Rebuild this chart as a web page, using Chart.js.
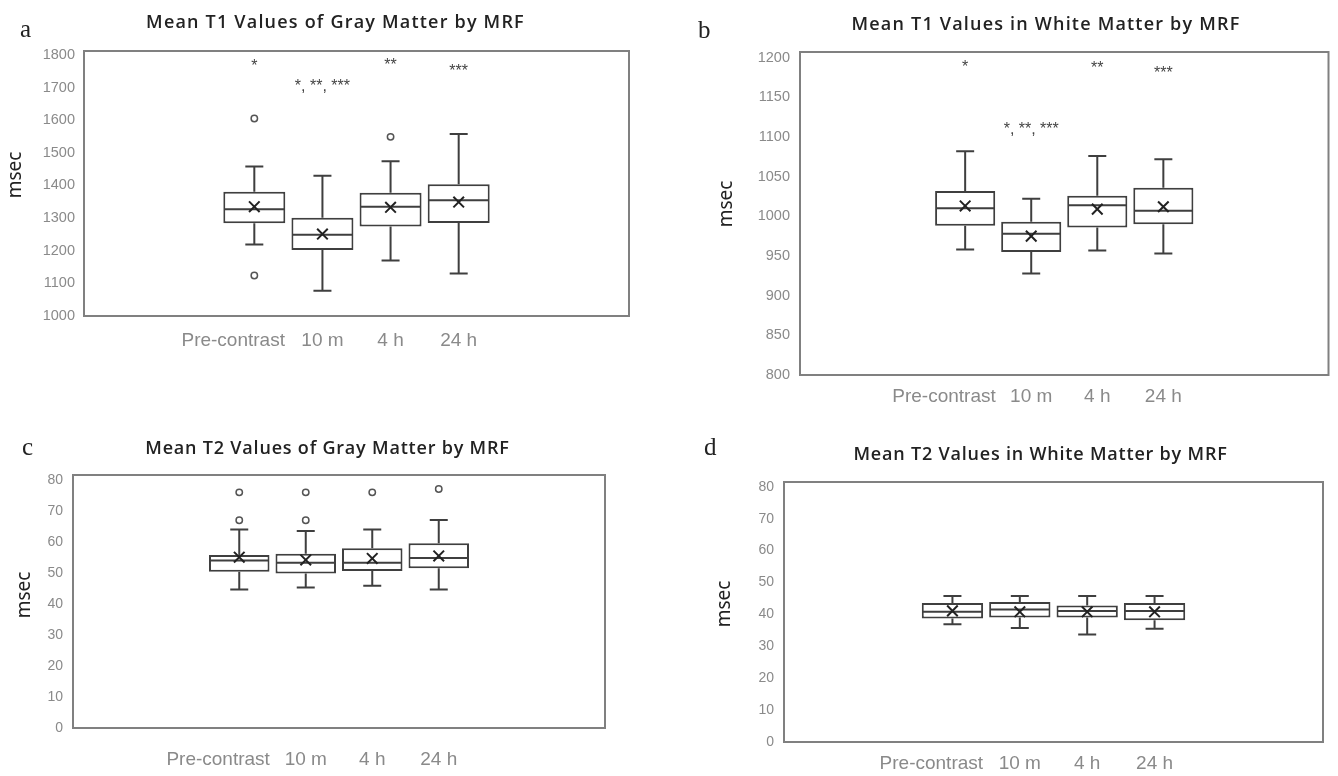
<!DOCTYPE html>
<html lang="en">
<head>
<meta charset="UTF-8">
<title>Mean T1 and T2 Values by MRF</title>
<script src="https://cdn.jsdelivr.net/npm/chart.js"></script>
<style>
    body { margin: 0; background: #fff; }
    #page { position: relative; width: 1338px; height: 776px; overflow: hidden; }
    canvas, .txt { position: absolute; }
    .title {
        font-family: 'Open Sans', 'Noto Sans', sans-serif;
        font-weight: 600;
        font-size: 18px;
        line-height: 1;
        letter-spacing: 0.8px;
        color: #222;
        white-space: nowrap;
        transform: translate(-50%, -50%);
    }
    .title.wide { letter-spacing: 1.2px; }
    .letter {
        font-family: 'Liberation Serif', serif;
        font-size: 25px;
        line-height: 1;
        color: #222;
    }
    .ylab {
        font-family: 'Noto Sans', sans-serif;
        font-size: 19px;
        line-height: 1;
        color: #222;
        transform: translate(-50%, -50%) rotate(-90deg);
    }
</style>
</head>
<body>
<div id="page">
    <canvas id="chartA" width="669" height="400" style="left:0;top:0"></canvas>
    <canvas id="chartB" width="669" height="420" style="left:669px;top:0"></canvas>
    <canvas id="chartC" width="669" height="376" style="left:0;top:400px"></canvas>
    <canvas id="chartD" width="669" height="356" style="left:669px;top:420px"></canvas>

    <div class="txt letter" style="left:20px;top:16px">a</div>
    <div class="txt letter" style="left:698px;top:17px">b</div>
    <div class="txt letter" style="left:22px;top:434px">c</div>
    <div class="txt letter" style="left:704px;top:434px">d</div>

    <div class="txt title wide" style="left:335.5px;top:20.5px">Mean T1 Values of Gray Matter by MRF</div>
    <div class="txt title wide" style="left:1046px;top:23px">Mean T1 Values in White Matter by MRF</div>
    <div class="txt title" style="left:327.5px;top:447px">Mean T2 Values of Gray Matter by MRF</div>
    <div class="txt title" style="left:1040.5px;top:453px">Mean T2 Values in White Matter by MRF</div>

    <div class="txt ylab" style="left:13.7px;top:175px">msec</div>
    <div class="txt ylab" style="left:724.7px;top:203.5px">msec</div>
    <div class="txt ylab" style="left:22.7px;top:594.5px">msec</div>
    <div class="txt ylab" style="left:722.7px;top:604px">msec</div>
</div>

<script>
    const categories = ['Pre-contrast', '10 m', '4 h', '24 h'];

    // a: mean T1, gray matter (msec)
    const t1GrayLow = [1219, 1077, 1170, 1130];
    const t1GrayQ1 = [1284, 1202, 1274, 1285];
    const t1GrayMedian = [1327, 1249, 1335, 1355];
    const t1GrayQ3 = [1381, 1301, 1378, 1404];
    const t1GrayHigh = [1458, 1430, 1474, 1558];
    const t1GrayMean = [1335, 1251, 1333, 1349];
    const t1GrayOutliers = [[1605, 1124], [], [1549], []];
    const t1GrayStars = ['*', '*, **, ***', '**', '***'];
    const t1GrayStarAt = [1779, 1715, 1782, 1763];

    // b: mean T1, white matter
    const t1WhiteLow = [958, 928, 957, 953];
    const t1WhiteQ1 = [988, 955, 986, 990];
    const t1WhiteMedian = [1010, 978, 1014, 1007];
    const t1WhiteQ3 = [1032, 993, 1026, 1036];
    const t1WhiteHigh = [1082, 1022, 1076, 1072];
    const t1WhiteMean = [1013, 975, 1009, 1012];
    const t1WhiteOutliers = [[], [], [], []];
    const t1WhiteStars = ['*', '*, **, ***', '**', '***'];
    const t1WhiteStarAt = [1193, 1115, 1192, 1185];

    // c: mean T2, gray matter
    const t2GrayLow = [44.7, 45.3, 45.9, 44.7];
    const t2GrayQ1 = [50.4, 49.8, 50.6, 51.5];
    const t2GrayMedian = [54.0, 53.3, 53.3, 54.8];
    const t2GrayQ3 = [55.8, 56.2, 58.0, 59.6];
    const t2GrayHigh = [64.0, 63.5, 64.0, 67.1];
    const t2GrayMean = [55.1, 54.2, 54.7, 55.5];
    const t2GrayOutliers = [[76, 67], [76, 67], [76], [77.1]];

    // d: mean T2, white matter
    const t2WhiteLow = [36.9, 35.7, 33.7, 35.5];
    const t2WhiteQ1 = [38.7, 39.0, 39.0, 38.2];
    const t2WhiteMedian = [40.8, 41.5, 41.1, 41.1];
    const t2WhiteQ3 = [43.6, 43.9, 42.8, 43.6];
    const t2WhiteHigh = [45.8, 45.8, 45.8, 45.8];
    const t2WhiteMean = [41.1, 40.8, 40.8, 40.8];
    const t2WhiteOutliers = [[], [], [], []];

    const BOX_LINE = '#3f3f3f';
    const TICK_GRAY = '#8a8a8a';
    const FIRST_SLOT = 2;   // the four groups sit in slots 2..5 of eight, like the Excel original

    function makePanel(canvasId, st, cfg) {
        const pad = ['', ''];
        // "Pre-contrast" sits a bit left of its box in the original, hence the trailing spaces
        const labels = pad.concat(categories.map((c, i) => i === 0 ? c + '\u00a0'.repeat(8) : c), pad);
        const slot = arr => [null, null].concat(arr, [null, null]);

        const datasets = [{
            type: 'bar',
            data: slot(st.q1.map((v, i) => [v, st.q3[i]])),
            backgroundColor: '#fff',
            borderColor: BOX_LINE,
            borderWidth: 2,
            borderSkipped: false,
            barPercentage: 0.91,
            categoryPercentage: 1,
            order: 3
        }, {
            type: 'line',
            data: slot(st.mean),
            showLine: false,
            pointStyle: 'crossRot',
            pointRadius: 7.5,
            pointBorderWidth: 2,
            pointBorderColor: '#222',
            order: 0
        }];

        const nOut = Math.max(0, ...st.outliers.map(o => o.length));
        for (let k = 0; k < nOut; k++) {
            datasets.push({
                type: 'line',
                data: slot(st.outliers.map(o => o[k] ?? null)),
                showLine: false,
                pointStyle: 'circle',
                pointRadius: 3.2,
                pointBorderWidth: 1.5,
                pointBorderColor: '#555',
                pointBackgroundColor: '#fff',
                order: 1
            });
        }

        const boxPlot = {
            id: 'boxPlot',
            beforeDatasetsDraw(chart) {
                const { ctx, chartArea: a } = chart;
                ctx.save();
                ctx.strokeStyle = '#808080';
                ctx.lineWidth = 2;
                ctx.strokeRect(a.left, a.top, a.right - a.left, a.bottom - a.top);
                ctx.restore();
            },
            afterDatasetDraw(chart, args) {
                if (args.index !== 0) return;
                const { ctx } = chart;
                const x = chart.scales.x, y = chart.scales.y;
                const bars = chart.getDatasetMeta(0).data;
                ctx.save();
                ctx.strokeStyle = BOX_LINE;
                ctx.lineWidth = 2;
                st.median.forEach((m, i) => {
                    const bar = bars[i + FIRST_SLOT];
                    const cx = x.getPixelForValue(i + FIRST_SLOT);
                    const half = bar.width / 2;
                    const cap = 9;
                    const yq1 = y.getPixelForValue(st.q1[i]);
                    const yq3 = y.getPixelForValue(st.q3[i]);
                    const ylo = y.getPixelForValue(st.low[i]);
                    const yhi = y.getPixelForValue(st.high[i]);
                    const ym = y.getPixelForValue(m);
                    ctx.beginPath();
                    // median
                    ctx.moveTo(cx - half + 1, ym); ctx.lineTo(cx + half - 1, ym);
                    // whiskers and caps
                    ctx.moveTo(cx, yq3); ctx.lineTo(cx, yhi);
                    ctx.moveTo(cx - cap, yhi); ctx.lineTo(cx + cap, yhi);
                    ctx.moveTo(cx, yq1); ctx.lineTo(cx, ylo);
                    ctx.moveTo(cx - cap, ylo); ctx.lineTo(cx + cap, ylo);
                    ctx.stroke();
                });
                ctx.restore();
            },
            afterDraw(chart) {
                if (!st.stars) return;
                const { ctx } = chart;
                const x = chart.scales.x, y = chart.scales.y;
                const size = 16;
                ctx.save();
                ctx.fillStyle = '#444';
                ctx.font = size + "px 'Liberation Sans', Arial, sans-serif";
                ctx.textAlign = 'center';
                ctx.textBaseline = 'alphabetic';
                st.stars.forEach((s, i) => {
                    ctx.fillText(s, x.getPixelForValue(i + FIRST_SLOT), y.getPixelForValue(st.starAt[i]) + size * 0.55);
                });
                ctx.restore();
            }
        };

        return new Chart(document.getElementById(canvasId), {
            type: 'bar',
            data: { labels, datasets },
            plugins: [boxPlot],
            options: {
                responsive: false,
                animation: false,
                events: [],
                layout: { padding: { top: cfg.top, right: cfg.right, left: 0, bottom: 0 } },
                plugins: {
                    legend: { display: false },
                    title: { display: false },
                    tooltip: { enabled: false }
                },
                scales: {
                    x: {
                        afterFit: s => { s.height = cfg.xHeight; },
                        grid: { display: false, drawTicks: false },
                        border: { display: false },
                        ticks: {
                            autoSkip: false,
                            minRotation: 0,
                            maxRotation: 0,
                            padding: cfg.xPad,
                            color: TICK_GRAY,
                            font: { family: "'Liberation Sans', Arial, sans-serif", size: 19 }
                        }
                    },
                    y: {
                        min: cfg.yMin,
                        max: cfg.yMax,
                        afterFit: s => { s.width = cfg.yWidth; },
                        afterBuildTicks: s => {
                            s.ticks = s.ticks.filter(t => Math.abs(t.value / cfg.step - Math.round(t.value / cfg.step)) < 1e-6);
                        },
                        grid: { display: false, drawTicks: false },
                        border: { display: false },
                        ticks: {
                            stepSize: cfg.step,
                            includeBounds: false,
                            autoSkip: false,
                            padding: cfg.yPad,
                            color: TICK_GRAY,
                            callback: v => String(v),
                            font: { family: "'Liberation Sans', Arial, sans-serif", size: cfg.tickSize }
                        }
                    }
                }
            }
        });
    }

    makePanel('chartA', {
        low: t1GrayLow, q1: t1GrayQ1, median: t1GrayMedian, q3: t1GrayQ3, high: t1GrayHigh,
        mean: t1GrayMean, outliers: t1GrayOutliers, stars: t1GrayStars, starAt: t1GrayStarAt
    }, { yMin: 1000, yMax: 1812, step: 100, yWidth: 84, yPad: 9, top: 51, right: 40, xHeight: 84, xPad: 13, tickSize: 14.5 });

    makePanel('chartB', {
        low: t1WhiteLow, q1: t1WhiteQ1, median: t1WhiteMedian, q3: t1WhiteQ3, high: t1WhiteHigh,
        mean: t1WhiteMean, outliers: t1WhiteOutliers, stars: t1WhiteStars, starAt: t1WhiteStarAt
    }, { yMin: 800, yMax: 1207, step: 50, yWidth: 131, yPad: 10, top: 52, right: 1, xHeight: 45, xPad: 10, tickSize: 14.5 });

    makePanel('chartC', {
        low: t2GrayLow, q1: t2GrayQ1, median: t2GrayMedian, q3: t2GrayQ3, high: t2GrayHigh,
        mean: t2GrayMean, outliers: t2GrayOutliers
    }, { yMin: 0, yMax: 81.6, step: 10, yWidth: 73, yPad: 10, top: 75, right: 64, xHeight: 48, xPad: 20, tickSize: 14 });

    makePanel('chartD', {
        low: t2WhiteLow, q1: t2WhiteQ1, median: t2WhiteMedian, q3: t2WhiteQ3, high: t2WhiteHigh,
        mean: t2WhiteMean, outliers: t2WhiteOutliers
    }, { yMin: 0, yMax: 81.5, step: 10, yWidth: 115, yPad: 10, top: 62, right: 15, xHeight: 34, xPad: 10, tickSize: 14 });
</script>
</body>
</html>
